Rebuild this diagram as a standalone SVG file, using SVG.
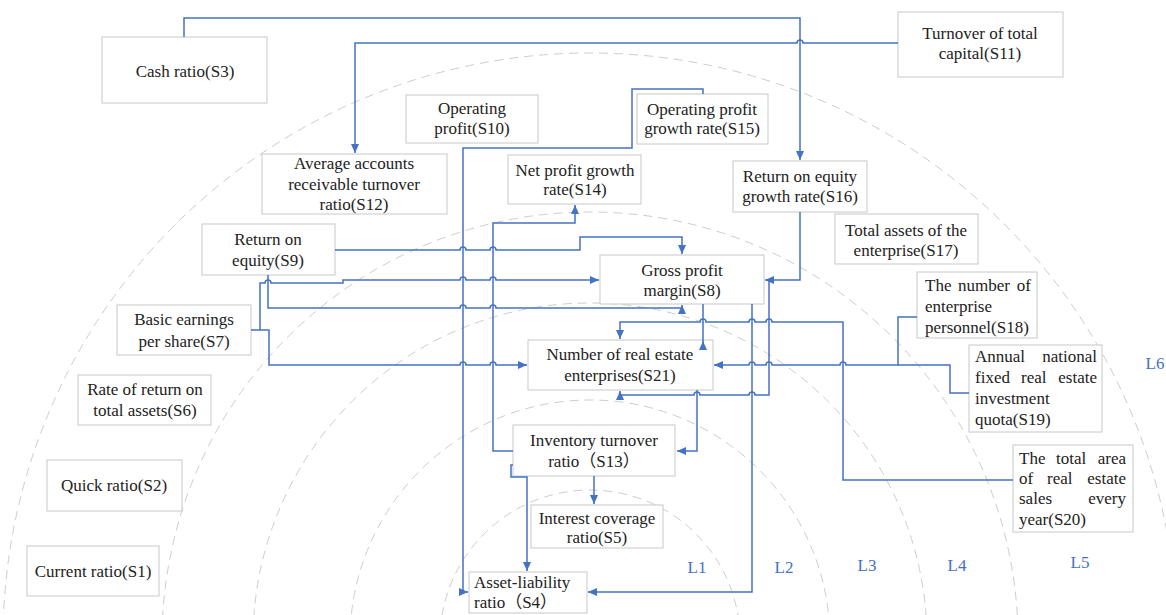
<svg xmlns="http://www.w3.org/2000/svg" width="1166" height="615" viewBox="0 0 1166 615">
<style>
.ring{fill:none;stroke:#cdcdcd;stroke-width:1;stroke-dasharray:9 6}
.box{fill:#fff;stroke:#c8c8c8;stroke-width:1}
.t{font-family:"Liberation Serif","Noto Sans CJK SC",serif;font-size:17px;fill:#222;text-anchor:middle}
.l{text-anchor:start}
.e{text-anchor:end}
.lv{font-family:"Liberation Serif",serif;font-size:17px;fill:#4472C4;text-anchor:middle}
.c{fill:none;stroke:#4472C4;stroke-width:1.5;marker-end:url(#arr)}
.n{fill:none;stroke:#4472C4;stroke-width:1.5}
</style>
<defs>
<marker id="arr" markerUnits="userSpaceOnUse" markerWidth="9" markerHeight="8" refX="9" refY="4" orient="auto">
<path d="M0,0 L9,4 L0,8 z" fill="#4472C4"/>
</marker>
</defs>
<rect width="1166" height="615" fill="#fff"/>
<g id="rings">
<circle class="ring" cx="590" cy="640" r="150"/>
<circle class="ring" cx="590" cy="640" r="240"/>
<circle class="ring" cx="590" cy="640" r="337"/>
<circle class="ring" cx="590" cy="640" r="428"/>
<circle class="ring" cx="590" cy="640" r="587"/>
</g>
<g id="levels">
<text class="lv" x="697" y="573">L1</text>
<text class="lv" x="784" y="573">L2</text>
<text class="lv" x="867" y="571">L3</text>
<text class="lv" x="957" y="571">L4</text>
<text class="lv" x="1080" y="568">L5</text>
<text class="lv" x="1155" y="369">L6</text>
</g>
<g id="S3"><rect class="box" x="102" y="37" width="165" height="66"/><text class="t" x="185" y="77">Cash ratio(S3)</text></g>
<g id="S11"><rect class="box" x="898" y="12" width="165" height="65"/><text class="t" x="980" y="39">Turnover of total</text><text class="t" x="980" y="59">capital(S11)</text></g>
<g id="S10"><rect class="box" x="406" y="95" width="132" height="48"/><text class="t" x="472" y="114">Operating</text><text class="t" x="472" y="134">profit(S10)</text></g>
<g id="S15"><rect class="box" x="637" y="94" width="131" height="50"/><text class="t" x="702" y="115">Operating profit</text><text class="t" x="702" y="134">growth rate(S15)</text></g>
<g id="S12"><rect class="box" x="262" y="154" width="185" height="60"/><text class="t" x="354" y="169">Average accounts</text><text class="t" x="354" y="190">receivable turnover</text><text class="t" x="354" y="210">ratio(S12)</text></g>
<g id="S14"><rect class="box" x="508" y="155" width="133" height="49"/><text class="t" x="575" y="176">Net profit growth</text><text class="t" x="575" y="195">rate(S14)</text></g>
<g id="S16"><rect class="box" x="733" y="161" width="134" height="51"/><text class="t" x="800" y="182">Return on equity</text><text class="t" x="800" y="202">growth rate(S16)</text></g>
<g id="S17"><rect class="box" x="835" y="214" width="143" height="50"/><text class="t" x="906" y="236">Total assets of the</text><text class="t" x="906" y="256">enterprise(S17)</text></g>
<g id="S9"><rect class="box" x="202" y="224" width="133" height="51"/><text class="t" x="268" y="245">Return on</text><text class="t" x="268" y="266">equity(S9)</text></g>
<g id="S8"><rect class="box" x="600" y="255" width="164" height="49"/><text class="t" x="682" y="276">Gross profit</text><text class="t" x="682" y="296">margin(S8)</text></g>
<g id="S18"><rect class="box" x="917" y="272" width="120" height="66"/>
<text class="t"><tspan class="l" x="925" y="291">The</tspan><tspan class="l" x="958" y="291">number</tspan><tspan class="e" x="1031" y="291">of</tspan></text>
<text class="t l" x="925" y="312">enterprise</text>
<text class="t l" x="925" y="333">personnel(S18)</text></g>
<g id="S7"><rect class="box" x="117" y="305" width="134" height="50"/><text class="t" x="184" y="325">Basic earnings</text><text class="t" x="184" y="347">per share(S7)</text></g>
<g id="S21"><rect class="box" x="528" y="340" width="185" height="50"/><text class="t" x="620" y="360">Number of real estate</text><text class="t" x="620" y="381">enterprises(S21)</text></g>
<g id="S19"><rect class="box" x="969" y="345" width="133" height="87"/>
<text class="t"><tspan class="l" x="975" y="362">Annual</tspan><tspan class="e" x="1097" y="362">national</tspan></text>
<text class="t"><tspan class="l" x="975" y="383">fixed</tspan><tspan class="l" x="1021" y="383">real</tspan><tspan class="e" x="1097" y="383">estate</tspan></text>
<text class="t l" x="975" y="404">investment</text>
<text class="t l" x="975" y="425">quota(S19)</text></g>
<g id="S6"><rect class="box" x="78" y="375" width="133" height="50"/><text class="t" x="145" y="395">Rate of return on</text><text class="t" x="145" y="416">total assets(S6)</text></g>
<g id="S13"><rect class="box" x="513" y="425" width="162" height="51"/><text class="t" x="594" y="446">Inventory turnover</text><text class="t" x="594" y="467">ratio（S13）</text></g>
<g id="S20"><rect class="box" x="1013" y="445" width="120" height="87"/>
<text class="t"><tspan class="l" x="1019" y="464">The</tspan><tspan class="l" x="1056" y="464">total</tspan><tspan class="e" x="1126" y="464">area</tspan></text>
<text class="t"><tspan class="l" x="1019" y="484">of</tspan><tspan class="l" x="1047" y="484">real</tspan><tspan class="e" x="1126" y="484">estate</tspan></text>
<text class="t"><tspan class="l" x="1019" y="504">sales</tspan><tspan class="e" x="1126" y="504">every</tspan></text>
<text class="t l" x="1019" y="525">year(S20)</text></g>
<g id="S2"><rect class="box" x="47" y="460" width="135" height="51"/><text class="t" x="114" y="491">Quick ratio(S2)</text></g>
<g id="S5"><rect class="box" x="531" y="505" width="132" height="43"/><text class="t" x="597" y="524">Interest coverage</text><text class="t" x="597" y="543">ratio(S5)</text></g>
<g id="S1"><rect class="box" x="27" y="546" width="132" height="50"/><text class="t" x="93" y="577">Current ratio(S1)</text></g>
<g id="S4"><rect class="box" x="469" y="572" width="118" height="41"/><text class="t l" x="474" y="588">Asset-liability</text><text class="t l" x="474" y="608">ratio（S4）</text></g>
<g id="connectors">
<path class="c" d="M184,37 V18 H800 V160"/>
<path class="c" d="M898,43 H803 A3,3 0 0 0 797,43 H355 V153"/>
<path class="c" d="M703,94 V89 H632 V148 H463 V592 H468"/>
<path class="c" d="M513,451 H493 V223 H575 V205"/>
<path class="c" d="M335,250 H460 A3,3 0 0 1 466,250 H490 A3,3 0 0 1 496,250 H580 V237 H682 V254"/>
<path class="c" d="M251,330 H260 V283 H265 A3,3 0 0 1 271,283 H343 V280 H460 A3,3 0 0 1 466,280 H490 A3,3 0 0 1 496,280 H599"/>
<path class="c" d="M260,330 H269 V365 H460 A3,3 0 0 1 466,365 H490 A3,3 0 0 1 496,365 H527"/>
<path class="c" d="M268,275 V308 H460 A3,3 0 0 1 466,308 H490 A3,3 0 0 1 496,308 H682 V305"/>
<path class="c" d="M703,304 V350 M703,350 V341"/>
<path class="c" d="M800,212 V280 H765"/>
<path class="c" d="M769,280 V395 H755 A3,3 0 0 0 749,395 H700 A3,3 0 0 0 694,395 H620 V391"/>
<path class="c" d="M752,304 V592 H588"/>
<path class="c" d="M697,390 V451 H677"/>
<path class="c" d="M1013,480 H843 V322 H772 A3,3 0 0 0 766,322 H755 A3,3 0 0 0 749,322 H706 A3,3 0 0 0 700,322 H620 V339"/>
<path class="c" d="M917,317 H898 V365 H846 A3,3 0 0 0 840,365 H772 A3,3 0 0 0 766,365 H755 A3,3 0 0 0 749,365 H714"/>
<path class="n" d="M969,393 H950 V365 H898"/>
<path class="c" d="M594,476 V504"/>
<path class="c" d="M513,465 H511 V477 H527 V571"/>
</g>
</svg>
